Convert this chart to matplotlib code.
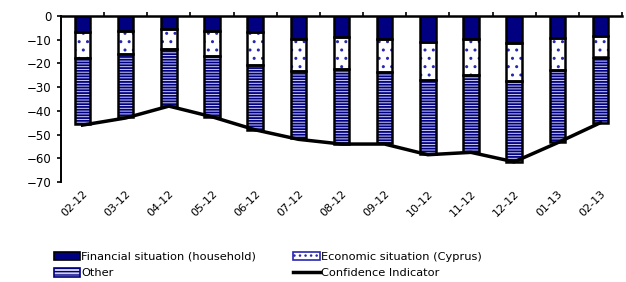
import numpy as np
import matplotlib
matplotlib.use("Agg")
import matplotlib.pyplot as plt
from matplotlib.patches import Patch
from matplotlib.lines import Line2D

months = ["02-12", "03-12", "04-12", "05-12", "06-12", "07-12", "08-12",
          "09-12", "10-12", "11-12", "12-12", "01-13", "02-13"]
financial = [-6.6, -6.2, -5.4, -6.3, -6.9, -9.7, -9.0, -9.7, -10.8, -9.9, -11.3, -9.4, -8.5]
economic = [-10.9, -9.8, -8.7, -10.6, -13.8, -13.4, -13.5, -13.8, -16.2, -15.0, -16.2, -13.4, -9.0]
other = [-28.1, -26.8, -23.9, -25.6, -27.5, -28.2, -31.5, -30.0, -31.3, -32.4, -34.0, -30.3, -27.5]
confidence = [-46, -43, -38, -42.5, -48, -52, -54, -54, -58.5, -57.5, -61.5, -53.5, -45]

navy = '#000080'
stripe_bg = '#d0d0f2'
dot_col = '#2828b0'

fig = plt.figure(figsize=(6.26, 2.82), dpi=100)
ax = fig.add_axes([61/626, 1-182/282, 561/626, 166/282])

x = np.arange(len(months))
w = 0.36
fin = np.array(financial)
eco = np.array(economic)
oth = np.array(other)

# fills (hatch drawn in navy), then black outlines on top
ax.bar(x, fin, w, color=navy, linewidth=0)
plt.rcParams['hatch.linewidth'] = 1.0
ax.bar(x, eco, w, bottom=fin, color='white', hatch='..', edgecolor=dot_col, linewidth=0)
plt.rcParams['hatch.linewidth'] = 1.3
ax.bar(x, oth, w, bottom=fin + eco, color=stripe_bg, hatch='------', edgecolor=navy, linewidth=0)
for vals, bot in [(fin, 0), (eco, fin), (oth, fin + eco)]:
    ax.bar(x, vals, w, bottom=bot, fill=False, edgecolor='black', linewidth=1.8)

ax.plot(x, confidence, color='black', linewidth=2.5)

ax.set_xlim(-0.5, 12.5)
ax.set_ylim(-70, 0)
ax.set_yticks(range(-70, 1, 10))
ax.tick_params(axis='y', labelsize=8.5, length=3, width=1.2, pad=4)

ax.spines['right'].set_visible(False)
ax.spines['bottom'].set_visible(False)
ax.spines['top'].set_linewidth(1.8)
ax.spines['left'].set_linewidth(1.4)

ax.set_xticks(x)
ax.set_xticklabels(months, rotation=45, ha='right', rotation_mode='anchor', fontsize=8)
ax.tick_params(axis='x', which='major', length=0, pad=5)
ax.set_xticks(np.arange(0.5, 12.6, 1), minor=True)
ax.tick_params(axis='x', which='minor', top=True, bottom=False, direction='out', length=3, width=1.2)

plt.rcParams['hatch.linewidth'] = 1.0
handles = [
    Patch(facecolor=navy, edgecolor='black', linewidth=1.2),
    Patch(facecolor='white', hatch='...', edgecolor=dot_col, linewidth=1.2),
    Patch(facecolor=stripe_bg, hatch='-----', edgecolor=navy, linewidth=1.2),
    Line2D([0], [0], color='black', linewidth=2.5),
]
labels = ["Financial situation (household)", "Other",
          "Economic situation (Cyprus)", "Confidence Indicator"]
fig.legend([handles[0], handles[2], handles[1], handles[3]], labels,
           loc='upper left', bbox_to_anchor=(49/626, 1-247/282), ncol=2,
           frameon=False, fontsize=8.2, handlelength=2.3, handleheight=0.8,
           handletextpad=0.1, columnspacing=3.3, labelspacing=0.55,
           borderaxespad=0)

fig.savefig("out.png", dpi=100)
